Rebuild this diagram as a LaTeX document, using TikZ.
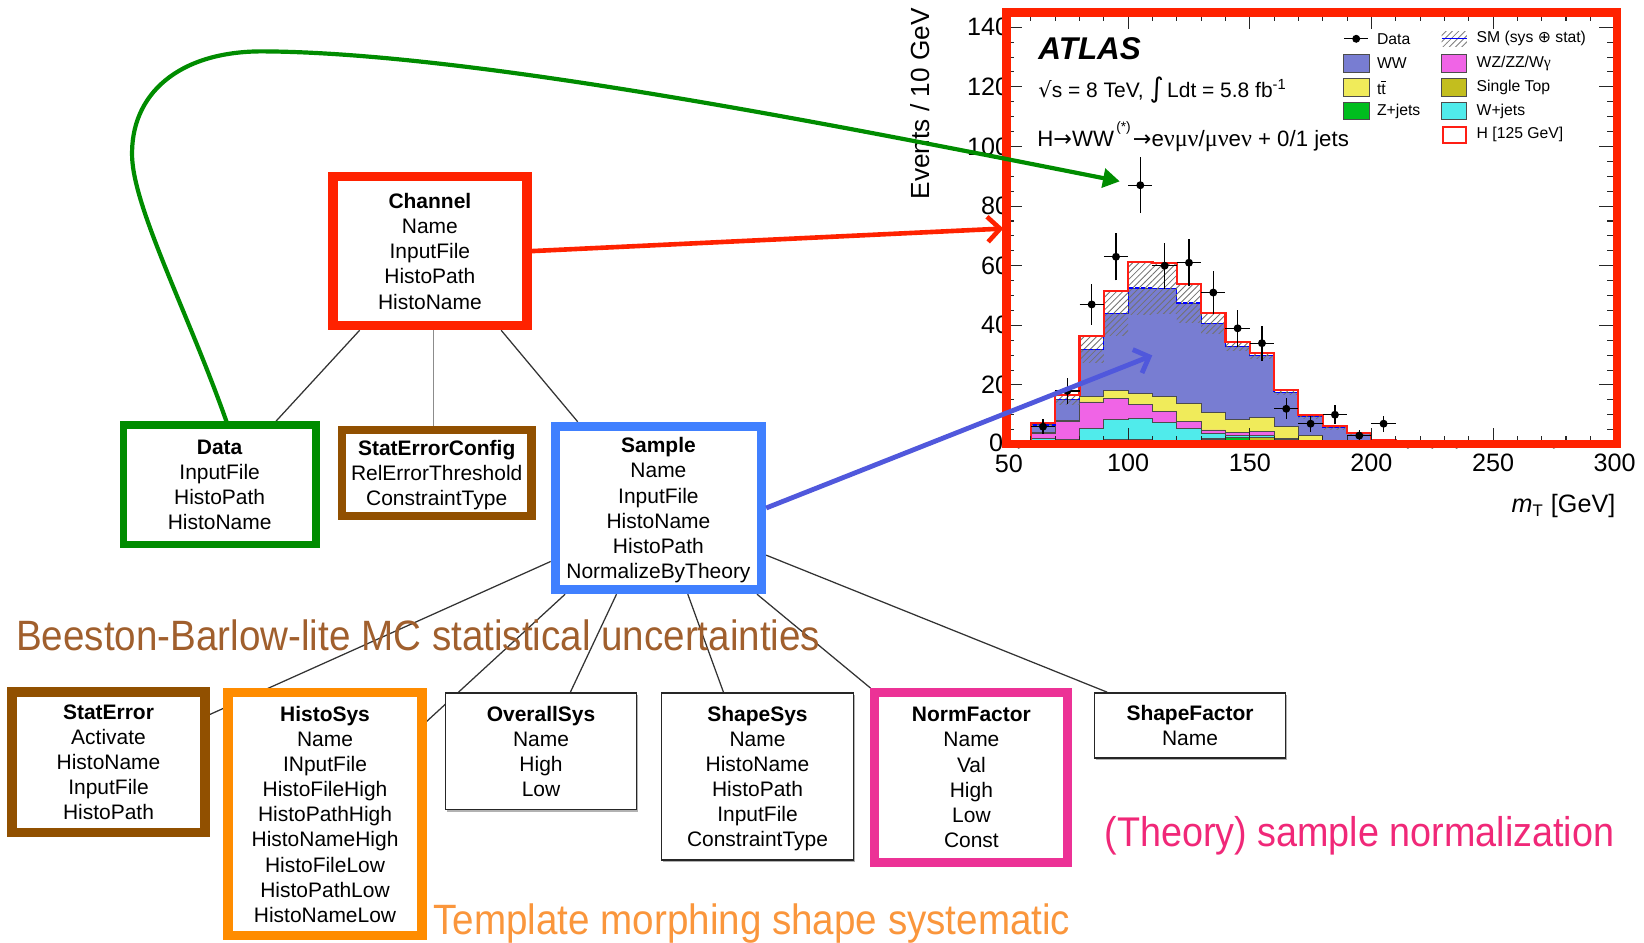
\documentclass[tikz,border=0pt]{standalone}
\usepackage{fontspec}
\setmainfont{Liberation Sans}
\newfontfamily\symfont{DejaVu Sans}
\newfontfamily\serfont{Liberation Serif}
\usetikzlibrary{arrows.meta,calc,patterns,shadows}
\pgfdeclarelayer{background}
\pgfsetlayers{background,main}

\definecolor{chanred}{RGB}{255,34,0}
\definecolor{datagreen}{RGB}{0,140,0}
\definecolor{cfgbrown}{RGB}{145,80,0}
\definecolor{sampleblue}{RGB}{64,128,255}
\definecolor{sysorange}{RGB}{255,140,0}
\definecolor{normpink}{RGB}{236,50,150}
\definecolor{arrowblue}{RGB}{80,88,220}
\definecolor{notebrown}{RGB}{160,95,45}
\definecolor{noteorange}{RGB}{250,150,60}
\definecolor{notepink}{RGB}{240,40,120}
\definecolor{hWW}{RGB}{120,125,210}
\definecolor{hTT}{RGB}{240,235,90}
\definecolor{hZ}{RGB}{0,190,30}
\definecolor{hWZ}{RGB}{240,100,230}
\definecolor{hST}{RGB}{195,190,30}
\definecolor{hW}{RGB}{80,235,235}
\definecolor{higgsred}{RGB}{255,30,20}

% last row of a box: no depth, so every box centres its rows alike
\newcommand\lastrow[1]{\raisebox{0pt}[\height][0pt]{#1}}
% tall, narrow setting of the slide notes
\newcommand\notetext[1]{\scalebox{1}[1.1]{#1}}

\tikzset{
  field/.style={fill=white, inner sep=0pt, align=center, font=\fontsize{10}{12}\selectfont},
  thickbox/.style={field, draw=#1},
  thinbox/.style={field, draw=black!85, line width=0.8pt,
    drop shadow={shadow xshift=0.6pt, shadow yshift=-1pt, fill=black!60}},
  link/.style={draw=black!80, line width=0.6pt},
  note/.style={inner sep=0pt, anchor=base west, font=\fontsize{18.4}{20}\selectfont},
  tick/.style={line width=0.5pt, draw=black!85},
  lab/.style={inner sep=0pt, font=\fontsize{12}{14}\selectfont},
  leg/.style={inner sep=0pt, anchor=west, font=\fontsize{7.5}{9}\selectfont},
  legbox/.style={draw=black!70, line width=0.4pt},
  layer/.style={draw=black!70, line width=0.4pt, fill=#1},
}

\begin{document}
\begin{tikzpicture}[x=0.5pt, y=-0.5pt]
\useasboundingbox (0,0) rectangle (1568,899);

% ---------- configuration boxes ----------
\node[thickbox=chanred, line width=4.5pt, minimum width=92.5pt, minimum height=71pt]
  (channel) at (410,239.5) {\textbf{Channel}\\Name\\InputFile\\HistoPath\\\lastrow{HistoName}};
\node[thickbox=datagreen, line width=3.5pt, minimum width=92pt, minimum height=57pt]
  (data) at (209.5,462.5) {\textbf{Data}\\InputFile\\HistoPath\\\lastrow{HistoName}};
\node[thickbox=cfgbrown, line width=4pt, minimum width=90.5pt, minimum height=41pt]
  (sec) at (416.5,451) {\textbf{StatErrorConfig}\\RelErrorThreshold\\\lastrow{ConstraintType}};
\node[thickbox=sampleblue, line width=4.25pt, minimum width=98.5pt, minimum height=78pt]
  (sample) at (628,484.5) {\textbf{Sample}\\Name\\InputFile\\HistoName\\HistoPath\\\lastrow{NormalizeByTheory}};
\node[thickbox=cfgbrown, line width=4.5pt, minimum width=92pt, minimum height=67pt]
  (staterror) at (103.5,727) {\textbf{StatError}\\Activate\\HistoName\\InputFile\\\lastrow{HistoPath}};
\node[thickbox=sysorange, line width=4.5pt, minimum width=92.5pt, minimum height=116pt]
  (histosys) at (310,776.5) {\textbf{HistoSys}\\Name\\INputFile\\HistoFileHigh\\HistoPathHigh\\HistoNameHigh\\HistoFileLow\\HistoPathLow\\\lastrow{HistoNameLow}};
\node[thinbox, minimum width=91pt, minimum height=55.5pt]
  (overall) at (516,716.5) {\textbf{OverallSys}\\Name\\High\\\lastrow{Low}};
\node[thinbox, minimum width=91.5pt, minimum height=79.5pt]
  (shapesys) at (722.5,740.5) {\textbf{ShapeSys}\\Name\\HistoName\\HistoPath\\InputFile\\\lastrow{ConstraintType}};
\node[thickbox=normpink, line width=4.3pt, minimum width=92pt, minimum height=81pt]
  (normfactor) at (926.5,741.5) {\textbf{NormFactor}\\Name\\Val\\High\\Low\\\lastrow{Const}};
\node[thinbox, minimum width=91pt, minimum height=31pt]
  (shapefactor) at (1135,692) {\textbf{ShapeFactor}\\\lastrow{Name}};

% ---------- tree connectors ----------
\begin{pgfonlayer}{background}
\draw[link] ([xshift=-33.5pt]channel.south) -- ([xshift=26.75pt]data.north);
\draw[link, draw=black!45] ([xshift=-1.5pt]sec.north) -- ([xshift=-1.5pt]sec.north |- channel.south);
\draw[link] ([xshift=34pt]channel.south) -- ([xshift=-38.5pt]sample.north);
\draw[link] ([yshift=-25.5pt]sample.west) -- ([yshift=22.75pt]staterror.east);
\draw[link] ([xshift=-44.5pt]sample.south) -- ([yshift=44.25pt]histosys.east);
\draw[link] ([xshift=-20pt]sample.south) -- ([xshift=14pt]overall.north);
\draw[link] ([xshift=14pt]sample.south) -- ([xshift=-16.25pt]shapesys.north);
\draw[link] ([xshift=47pt]sample.south) -- (normfactor.north west);
\draw[link] ([yshift=-22.5pt]sample.east) -- ([xshift=-39.5pt]shapefactor.north);
\end{pgfonlayer}

% ---------- notes ----------
\node[note, text=notebrown] (bbnote) at (15,620) {\notetext{Beeston-Barlow-lite MC statistical uncertainties}};
\node[note, text=noteorange] (tmnote) at (413,891) {\notetext{Template morphing shape systematic}};
\node[note, text=notepink, font=\fontsize{18}{20}\selectfont] (thnote) at (1053,807) {\notetext{(Theory) sample normalization}};

% ---------- m_T distribution ----------
\begin{scope}[shift={(844,424)}, x=1.16pt, y=1.4215pt]
  % stacked backgrounds
  \filldraw[layer=hWW] (50,0) -- plot[const plot mark left] coordinates {(50,0.6)(60,6.6)(70,15.0)(80,32.0)(90,44.0)(100,52.5)(110,52.3)(120,47.5)(130,40.7)(140,33.0)(150,29.8)(160,17.5)(170,9.4)(180,5.6)(190,3.7)(200,1.2)(210,0.4)(220,0)} -- cycle;
  \filldraw[layer=hTT] (50,0) -- plot[const plot mark left] coordinates {(50,0.35)(60,4.0)(70,8.1)(80,16.1)(90,18.3)(100,17.2)(110,16.0)(120,13.9)(130,10.7)(140,8.5)(150,9.1)(160,6.0)(170,3.2)(180,1.0)(190,0.6)(200,0.3)(210,0.1)(220,0)} -- cycle;
  \filldraw[layer=hWZ] (50,0) -- plot[const plot mark left] coordinates {(50,0.3)(60,3.8)(70,7.8)(80,14.3)(90,15.5)(100,13.3)(110,11.0)(120,7.7)(130,4.9)(140,4.0)(150,4.5)(160,2.0)(170,0.9)(180,0.5)(190,0.4)(200,0.2)(210,0.05)(220,0)} -- cycle;
  \filldraw[layer=hW] (50,0) -- plot[const plot mark left] coordinates {(50,0.2)(60,2.0)(70,1.6)(80,5.5)(90,8.4)(100,8.8)(110,7.4)(120,5.4)(130,3.8)(140,3.0)(150,3.2)(160,1.6)(170,0.7)(180,0.3)(190,0.2)(200,0.1)(210,0)(220,0)} -- cycle;
  \filldraw[layer=hZ] (50,0) -- plot[const plot mark left] coordinates {(50,0.15)(60,1.5)(70,1.0)(80,1.4)(90,1.7)(100,1.6)(110,1.3)(120,1.4)(130,2.0)(140,2.5)(150,2.5)(160,1.4)(170,0.6)(180,0.3)(190,0.2)(200,0.1)(210,0)(220,0)} -- cycle;
  \filldraw[layer=hST] (50,0) -- plot[const plot mark left] coordinates {(50,0.1)(60,0.5)(70,0.6)(80,1.2)(90,1.6)(100,1.5)(110,1.2)(120,1.2)(130,1.8)(140,1.5)(150,2.3)(160,1.3)(170,0.5)(180,0.2)(190,0.1)(200,0.05)(210,0)(220,0)} -- cycle;
  % uncertainty band on the SM total
  \foreach \lo/\a/\b in {50/0.6/1.0,60/6.6/7.2,70/15.0/16.5,80/32.0/36.5,90/44.0/51.5,100/52.5/61.3,110/52.3/60.8,120/47.5/54.0,130/40.7/44.2,140/33.0/34.5,150/29.8/30.8,160/17.5/18.2,170/9.4/10.0,180/5.6/6.1,190/3.7/3.9,200/1.2/1.5,210/0.4/0.5}
    \fill[pattern=north east lines, pattern color=black!55] (\lo,{2*\a-\b}) rectangle ({\lo+10},\b);
  % SM total and signal outline
  \draw[blue, line width=0.6pt, dash pattern=on 2pt off 1pt] plot[const plot mark left] coordinates {(50,0.6)(60,6.6)(70,15.0)(80,32.0)(90,44.0)(100,52.5)(110,52.3)(120,47.5)(130,40.7)(140,33.0)(150,29.8)(160,17.5)(170,9.4)(180,5.6)(190,3.7)(200,1.2)(210,0.4)(220,0)};
  \draw[higgsred, line width=1pt] plot[const plot mark left] coordinates {(50,1.0)(60,7.2)(70,16.5)(80,36.5)(90,51.5)(100,61.3)(110,60.8)(120,54.0)(130,44.2)(140,34.5)(150,30.8)(160,18.2)(170,10.0)(180,6.1)(190,3.9)(200,1.5)(210,0.5)(220,0.3)(300,0.3)};
  % data points
  \foreach \m/\v in {65/6,75/18,85/47,95/63,105/87,115/60,125/61,135/51,145/39,155/34,165/12,175/7,185/10,195/3,205/7} {
    \draw[line width=0.6pt] (\m-5,\v) -- (\m+5,\v) (\m,{\v-sqrt(\v)}) -- (\m,{\v+sqrt(\v)});
    \fill (\m,\v) circle[radius=1.9pt];
  }
  \foreach \m in {55,215,225,235,275} \fill (\m,0) circle[radius=1.9pt];
  % axis ticks
  \foreach \v in {0,5,...,145} {
    \draw[tick] (50,\v) -- ++(3.2,0);
    \draw[tick] (300,\v) -- ++(-3.2,0);
  }
  \foreach \v in {0,20,...,140} {
    \draw[tick] (50,\v) -- ++(6.5,0);
    \draw[tick] (300,\v) -- ++(-6.5,0);
  }
  \foreach \v in {20,40,...,140} \node[lab, anchor=east] at (51.2,\v) {\v};
  \node[lab, anchor=east] at (48.8,0.6) {0};
  \foreach \m in {50,60,...,300} {
    \draw[tick] (\m,0) -- ++(0,2.8);
    \draw[tick] (\m,145) -- ++(0,-2.8);
  }
  \foreach \m in {50,100,...,300} {
    \draw[tick] (\m,0) -- ++(0,5.5);
    \draw[tick] (\m,145) -- ++(0,-5.5);
  }
  \foreach \m in {100,150,...,300} \node[lab] at (\m,-6.2) {\m};
  \node[lab] at (51,-6.6) {50};
\end{scope}

% axis titles and labels
\node[rotate=90, inner sep=0pt, font=\fontsize{12.5}{14}\selectfont] (ytitle) at (878,99) {Events / 10 GeV};
\node[anchor=east, inner sep=0pt, font=\fontsize{12}{14}\selectfont] (xtitle) at (1541,483) {\textit{m}\textsubscript{T} [GeV]};
\node[anchor=west, inner sep=0pt, font=\fontsize{15}{18}\selectfont\bfseries\itshape] (atlas) at (990,46) {ATLAS};
\node[anchor=west, inner sep=0pt, font=\fontsize{10}{12}\selectfont] (lumi) at (990,86)
  {{\symfont √}s = 8 TeV, {\symfont\fontsize{13}{13}\selectfont ∫}\,Ldt = 5.8 fb\textsuperscript{-1}};
\node[anchor=west, inner sep=0pt, font=\fontsize{10.6}{12}\selectfont] (chan) at (989,130)
  {H{\symfont →}WW\raisebox{1.3ex}{\fontsize{6.5}{6.5}\selectfont\,(*)\,}{\symfont →}e{\serfont\fontsize{11.5}{12}\selectfont νμν}/{\serfont\fontsize{11.5}{12}\selectfont μν}e{\serfont\fontsize{11.5}{12}\selectfont ν} + 0/1 jets};

% legend
\draw[line width=0.6pt] (1282,37) -- (1305,37);
\fill (1293.5,37) circle[radius=1.9pt];
\node[leg] at (1313,37) {Data};
\filldraw[legbox, fill=hWW] (1281,52) rectangle (1306,69);
\node[leg] at (1313,60.5) {WW};
\filldraw[legbox, fill=hTT] (1281,75) rectangle (1306,92);
\node[leg] at (1313,83.5) {t$\overline{\mbox{t}}$};
\filldraw[legbox, fill=hZ] (1281,98) rectangle (1306,114);
\node[leg] at (1313,106) {Z+jets};
\fill[pattern=north east lines, pattern color=black!50] (1375,30) rectangle (1399,44);
\draw[blue, line width=0.6pt] (1375,37) -- (1399,37);
\node[leg] at (1408,37) {SM (sys {\symfont ⊕} stat)};
\filldraw[legbox, fill=hWZ] (1375,52) rectangle (1399,69);
\node[leg] at (1408,60.5) {WZ/ZZ/W{\serfont γ}};
\filldraw[legbox, fill=hST] (1375,75) rectangle (1399,92);
\node[leg] at (1408,83.5) {Single Top};
\filldraw[legbox, fill=hW] (1375,98) rectangle (1399,114);
\node[leg] at (1408,106) {W+jets};
\draw[higgsred, line width=1pt] (1376,121) rectangle (1398,136);
\node[leg] at (1408,128.5) {H [125 GeV]};

% red frame round the plot
\draw[chanred, line width=4pt] (960,12) rectangle (1542,423.5);

% ---------- arrows into the plot ----------
\coordinate (redtip) at (957,218);
\coordinate (greentip) at (1068,173);
\coordinate (bluetip) at (1099,339);
\draw[chanred, line width=2.2pt, -{Straight Barb[length=6pt,width=12pt]}] (channel.east) -- (redtip);
\draw[arrowblue, line width=2.3pt, -{Straight Barb[length=6pt,width=12pt]}] (sample.east) -- (bluetip);
\draw[datagreen, line width=2pt, -{Triangle[length=8pt,width=9pt]}]
  ([xshift=3.25pt]data.north) .. controls (180,300) and (128,200) .. (126,150)
  .. controls (124,90) and (170,49) .. (250,49)
  .. controls (450,50) and (800,120) .. (greentip);
\end{tikzpicture}
\end{document}
